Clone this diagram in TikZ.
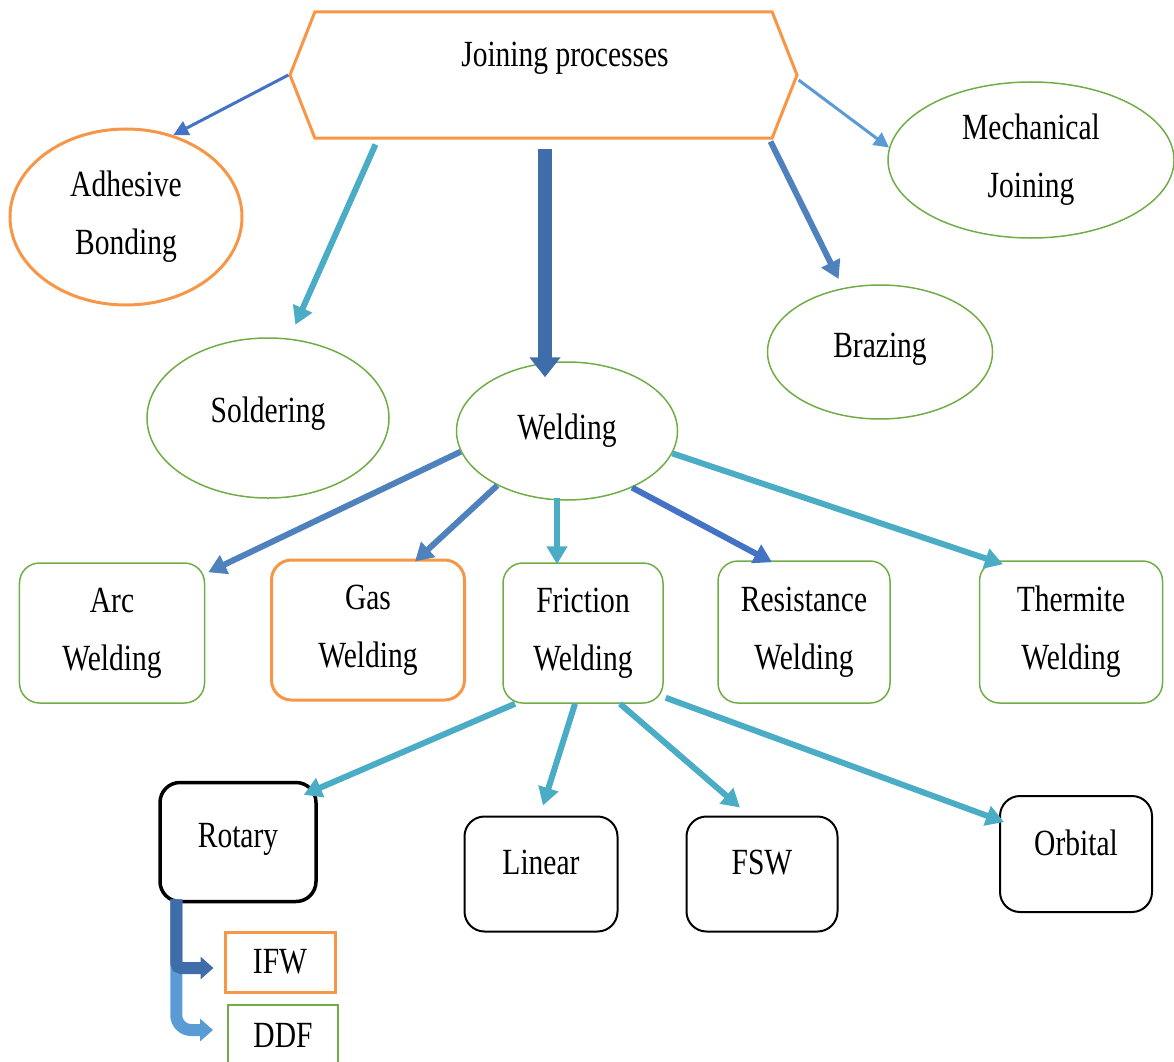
\documentclass[tikz,border=0pt]{standalone}
\usepackage{fontspec}
\setmainfont{Liberation Serif}[FakeStretch=0.8]
\usepackage{tikz}
\usetikzlibrary{shapes.geometric, shapes.symbols, arrows.meta, positioning, calc}
\definecolor{LineOrange}{HTML}{F79646}
\definecolor{LineGreen}{HTML}{70AD47}
\definecolor{ArrowBlue}{HTML}{4F81BD}
\definecolor{DeepBlue}{HTML}{4472C4}
\definecolor{SkyBlue}{HTML}{5B9BD5}
\definecolor{ArrowTeal}{HTML}{4BACC6}
\definecolor{BlockBlue}{HTML}{3F6DAA}
\tikzset{
  % Node styles
  hexnode/.style={signal, signal to=west and east, signal pointer angle=137, draw=LineOrange, line width=0.6mm, minimum width=101.4mm, minimum height=25.2mm, inner sep=0pt},
  ovalnode/.style={ellipse, draw=LineGreen, line width=0.3mm, inner sep=0pt, align=center},
  orangeoval/.style={ovalnode, draw=LineOrange, line width=0.6mm},
  greenbox/.style={rectangle, rounded corners=4mm, draw=LineGreen, line width=0.3mm, inner sep=0pt, align=center},
  orangebox/.style={greenbox, draw=LineOrange, line width=0.6mm},
  blackbox/.style={rectangle, rounded corners=4mm, draw=black, line width=0.4mm, inner sep=0pt, align=center},
  tagbox/.style={rectangle, draw=LineGreen, line width=0.4mm, inner sep=0pt, minimum width=22mm, minimum height=12mm},
  lifted/.style={text depth=#1},
  % Arrow styles
  thinarrow/.style={-{Triangle[width=3mm,length=3mm]}, line width=0.6mm, DeepBlue},
  bluearrow/.style={-{Triangle[width=4mm,length=3.6mm]}, line width=1.2mm, ArrowBlue},
  tealarrow/.style={bluearrow, ArrowTeal},
  blockarrow/.style={-{Triangle[width=6mm,length=4mm]}, line width=2.8mm, BlockBlue},
  elbowarrow/.style={-{Triangle[width=4.4mm,length=2.6mm]}, line width=2.4mm}
}

\begin{document}
\begin{tikzpicture}[x=0.2mm, y=-0.2mm, font=\fontsize{21}{33}\selectfont]
  \useasboundingbox (0,0) rectangle (1174,1061);

  % Top level
  \node[hexnode, label={[xshift=4.3mm, yshift=3.4mm]center:Joining processes}] (join) at (543.5,75) {};

  % Process families
  \node[orangeoval, minimum width=46.4mm, minimum height=35.2mm] (adh) at (126,217) {Adhesive\\Bonding};
  \node[ovalnode, lifted=3.2mm, minimum width=48.4mm, minimum height=32mm] (sold) at (268,418) {Soldering};
  \node[ovalnode, minimum width=44.2mm, minimum height=27.6mm] (weld) at (567,431) {Welding};
  \node[ovalnode, lifted=2.6mm, minimum width=45mm, minimum height=26.8mm] (braz) at (880,352) {Brazing};
  \node[ovalnode, minimum width=57.2mm, minimum height=31.2mm] (mech) at (1031,160) {Mechanical\\Joining};

  % Welding types
  \node[greenbox, minimum width=37mm, minimum height=28mm] (arc) at (112,633) {Arc\\Welding};
  \node[orangebox, minimum width=38.6mm, minimum height=28mm] (gas) at (368,630) {Gas\\Welding};
  \node[greenbox, minimum width=32mm, minimum height=28mm] (fric) at (583,633) {Friction\\Welding};
  \node[greenbox, minimum width=34.4mm, minimum height=28.4mm] (res) at (804,632) {Resistance\\Welding};
  \node[greenbox, minimum width=36.6mm, minimum height=28.4mm] (therm) at (1071,632) {Thermite\\Welding};

  % Friction variants
  \node[blackbox, lifted=2.6mm, line width=0.7mm, minimum width=31.2mm, minimum height=23.8mm] (rot) at (238,842) {Rotary};
  \node[blackbox, lifted=4.6mm, minimum width=30.6mm, minimum height=23mm] (lin) at (541,874) {Linear};
  \node[blackbox, lifted=4.6mm, minimum width=30.2mm, minimum height=23mm] (fsw) at (762,874) {FSW};
  \node[blackbox, lifted=4.6mm, minimum width=30.4mm, minimum height=23.2mm] (orb) at (1076,854) {Orbital};

  % Rotary variants
  \node[tagbox, draw=LineOrange, line width=0.6mm] (ifw) at (280,962) {IFW};
  \node[tagbox] (ddf) at (283,1035) {DDF};

  \draw[thinarrow] (join.west) -- (adh.60);
  \draw[tealarrow, shorten >=3mm] ($(join.south)+(-168,5)$) -- (sold.75);
  \draw[blockarrow] ($(join.south)+(1.5,9)$) -- ($(join.south |- weld.north)+(1.5,16)$);
  \draw[bluearrow, shorten >=2mm] ($(join.south)+(227,2)$) -- (braz.120);
  \draw[thinarrow, SkyBlue] ($(join.east)+(0,5)$) -- (mech.175);

  \draw[bluearrow] (weld.191) -- ($(arc.north east)+(3,10)$);
  \draw[bluearrow] (weld.218) -- ($(gas.north)+(47,3)$);
  \draw[tealarrow] ($(weld.south)+(-10,-3)$) -- ($(fric.north)+(-26,2)$);
  \draw[bluearrow, DeepBlue] (weld.-41) -- ($(res.north)+(-32,2)$);
  \draw[tealarrow] (weld.-12) -- ($(therm.north)+(-68,4)$);

  \draw[tealarrow] ($(fric.south)+(-68,0)$) -- ($(rot.north east)+(-14,14)$);
  \draw[tealarrow] ($(fric.south)+(-8,0)$) -- ($(lin.north)+(2,-10)$);
  \draw[tealarrow] ($(fric.south)+(37,0)$) -- ($(fsw.north)+(-22,-8)$);
  \draw[tealarrow] ($(fric.south east)+(2,-6)$) -- ($(orb.west)+(5,-32)$);

  \draw[elbowarrow, SkyBlue, rounded corners=3mm] ($(rot.south west)+(18,-4)$) |- ($(ddf.west)+(-14,-5)$);
  \draw[elbowarrow, BlockBlue, rounded corners=1mm] ($(rot.south west)+(18,-4)$) |- ($(ifw.west)+(-10,6)$);
\end{tikzpicture}
\end{document}
